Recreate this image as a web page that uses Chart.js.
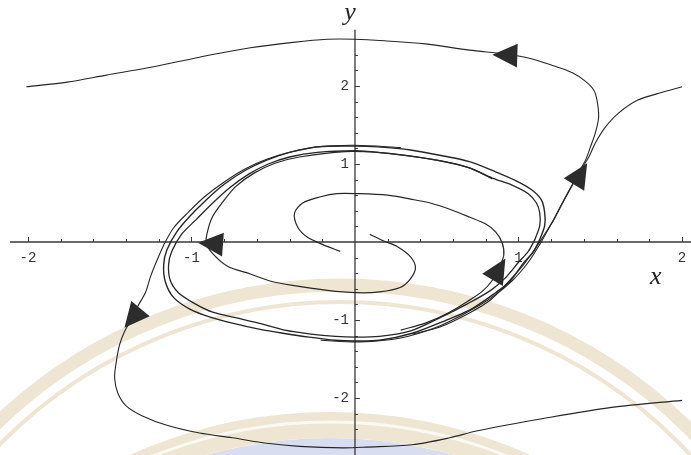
<!DOCTYPE html>
<html>
<head>
<meta charset="utf-8">
<script src="https://cdn.jsdelivr.net/npm/chart.js@4"></script>
<style>
  html, body { margin: 0; padding: 0; background: #fff; }
  #wrap { width: 691px; height: 455px; }
</style>
</head>
<body>
<div id="wrap"><canvas id="phase" width="691" height="455"></canvas></div>
<script>
// Phase-plane trajectories (x, y) around the limit cycle.
const cycleOuter = [
  [1.13,0.03],[1.16,0.21],[1.16,0.38],[1.14,0.54],[1.08,0.67],[0.98,0.79],[0.86,0.90],[0.70,1.03],
  [0.55,1.10],[0.34,1.18],[0.14,1.22],[0,1.23],[-0.23,1.22],[-0.40,1.15],[-0.54,1.05],[-0.67,0.92],
  [-0.80,0.74],[-0.91,0.54],[-1.01,0.33],[-1.09,0.13],[-1.15,-0.10],[-1.17,-0.29],[-1.16,-0.51],
  [-1.11,-0.71],[-1.01,-0.86],[-0.89,-0.96],[-0.75,-1.04],[-0.58,-1.12],[-0.44,-1.17],[-0.28,-1.22],
  [-0.12,-1.26],[0,-1.27],[0.15,-1.26],[0.35,-1.17],[0.55,-1.01],[0.72,-0.85],[0.86,-0.65],
  [0.95,-0.50],[1.03,-0.27],[1.09,-0.13],[1.13,0.03]
];
const cycleInner = [
  [1.10,0.03],[1.13,0.21],[1.13,0.37],[1.11,0.50],[1.06,0.62],[0.96,0.73],[0.84,0.82],[0.70,0.95],
  [0.55,1.03],[0.34,1.10],[0.14,1.15],[0,1.17],[-0.23,1.15],[-0.40,1.09],[-0.53,1.00],[-0.65,0.87],
  [-0.77,0.69],[-0.87,0.50],[-0.97,0.29],[-1.06,0.10],[-1.12,-0.12],[-1.14,-0.29],[-1.13,-0.49],
  [-1.08,-0.65],[-0.98,-0.79],[-0.87,-0.90],[-0.73,-0.97],[-0.57,-1.05],[-0.43,-1.13],[-0.27,-1.18],
  [-0.12,-1.21],[0,-1.22],[0.15,-1.21],[0.34,-1.14],[0.53,-0.96],[0.69,-0.79],[0.83,-0.62],
  [0.92,-0.46],[1.00,-0.26],[1.06,-0.12],[1.10,0.03]
];
const escapeUpper = [
  [0.35,-1.18],[0.52,-1.09],[0.70,-0.91],[0.83,-0.74],[0.92,-0.55],[1.02,-0.32],[1.10,-0.09],
  [1.16,0.10],[1.22,0.30],[1.27,0.50],[1.33,0.73],[1.37,0.90],[1.41,1.05],[1.44,1.22],[1.47,1.40],
  [1.49,1.60],[1.48,1.82],[1.46,1.95],[1.41,2.06],[1.33,2.17],[1.20,2.27],[1.06,2.36],[0.92,2.41],
  [0.70,2.46],[0.43,2.54],[0.18,2.58],[0,2.60],[-0.17,2.60],[-0.38,2.56],[-0.64,2.49],[-0.95,2.37],
  [-1.25,2.24],[-1.52,2.14],[-1.76,2.05],[-2.01,1.99]
];
const approachRight = [
  [2.00,1.99],[1.88,1.92],[1.73,1.82],[1.61,1.65],[1.53,1.47],[1.47,1.27],[1.43,1.09],[1.38,0.92],
  [1.33,0.74],[1.27,0.51],[1.20,0.23],[1.13,-0.03],[1.06,-0.26],[0.96,-0.50],[0.83,-0.72],
  [0.67,-0.92],[0.49,-1.10],[0.28,-1.23],[0.03,-1.28],[-0.21,-1.26]
];
const escapeLower = [
  [0.28,1.21],[0,1.24],[-0.23,1.22],[-0.40,1.15],[-0.54,1.06],[-0.67,0.94],[-0.80,0.77],[-0.92,0.58],
  [-1.02,0.38],[-1.11,0.18],[-1.17,-0.04],[-1.21,-0.23],[-1.25,-0.44],[-1.28,-0.64],[-1.33,-0.83],
  [-1.37,-1.00],[-1.41,-1.15],[-1.44,-1.32],[-1.46,-1.54],[-1.47,-1.74],[-1.45,-1.94],[-1.40,-2.10],
  [-1.30,-2.23],[-1.15,-2.35],[-0.95,-2.45],[-0.75,-2.51],[-0.54,-2.58],[-0.34,-2.62],[-0.07,-2.64],
  [0.07,-2.63],[0.35,-2.60],[0.58,-2.51],[0.75,-2.42],[1.16,-2.26],[1.57,-2.12],[2.00,-2.03]
];
const spiralA = [
  [0.28,-1.13],[0.43,-1.04],[0.57,-0.91],[0.69,-0.76],[0.78,-0.63],[0.84,-0.49],[0.88,-0.33],
  [0.91,-0.17],[0.90,-0.01],[0.86,0.13],[0.80,0.23],[0.70,0.32],[0.58,0.42],[0.46,0.50],[0.34,0.55],
  [0.20,0.60],[0.01,0.62],[-0.11,0.62],[-0.21,0.58],[-0.32,0.50],[-0.37,0.37],[-0.35,0.19],
  [-0.29,0.06],[-0.20,-0.03],[-0.09,-0.12]
];
const spiralB = [
  [0.84,0.81],[0.70,0.95],[0.52,1.04],[0.31,1.11],[0.14,1.15],[-0.06,1.16],[-0.34,1.09],[-0.49,1.01],
  [-0.62,0.88],[-0.73,0.71],[-0.81,0.51],[-0.87,0.33],[-0.90,0.15],[-0.91,-0.01],[-0.87,-0.15],
  [-0.78,-0.31],[-0.64,-0.41],[-0.52,-0.50],[-0.37,-0.56],[-0.17,-0.62],[0.01,-0.65],[0.15,-0.64],
  [0.28,-0.58],[0.34,-0.47],[0.37,-0.33],[0.34,-0.19],[0.26,-0.06],[0.18,0.01],[0.09,0.10]
];
// Direction arrowheads: [tipX, tipY, tailX, tailY]
const arrows = [
  [0.84,2.40, 0.99,2.39],
  [1.42,1.01, 1.34,0.74],
  [0.92,-0.21, 0.84,-0.49],
  [-0.96,-0.01, -0.83,-0.03],
  [-1.41,-1.10, -1.31,-0.85]
];
// Axis ticks and labels
const xTickValues = [-2, -1, 1, 2];
const xTickLabels = ['-2', '-1', '1', '2'];
const yTickValues = [-2, -1, 1, 2];
const yTickLabels = ['-2', '-1', '1', '2'];
const xAxisName = 'x';
const yAxisName = 'y';

const toPoints = arr => arr.map(([x, y]) => ({ x, y }));
const ink = '#262626';

function curve(data, width) {
  return {
    data: toPoints(data),
    showLine: true,
    borderColor: ink,
    borderWidth: width,
    pointRadius: 0,
    tension: 0.3,
    fill: false
  };
}

const backdrop = {
  id: 'backdrop',
  beforeDraw(chart) {
    const ctx = chart.ctx;
    ctx.save();
    ctx.fillStyle = '#ffffff';
    ctx.fillRect(0, 0, chart.width, chart.height);
    ctx.strokeStyle = '#eee6d3';
    ctx.lineWidth = 13;
    ctx.beginPath(); ctx.arc(340, 780, 495, Math.PI, 2 * Math.PI); ctx.stroke();
    ctx.lineWidth = 4;
    ctx.beginPath(); ctx.arc(340, 780, 478, Math.PI, 2 * Math.PI); ctx.stroke();
    ctx.fillStyle = '#d8ddef';
    ctx.beginPath(); ctx.arc(330, 900, 462, 0, 2 * Math.PI); ctx.fill();
    ctx.lineWidth = 26;
    ctx.beginPath(); ctx.arc(330, 900, 475, Math.PI, 2 * Math.PI); ctx.stroke();
    ctx.strokeStyle = '#fbf9f4';
    ctx.lineWidth = 3;
    ctx.beginPath(); ctx.arc(330, 900, 478, Math.PI, 2 * Math.PI); ctx.stroke();
    ctx.restore();
  }
};

const axes = {
  id: 'axes',
  beforeDatasetsDraw(chart) {
    const { ctx, scales: { x, y } } = chart;
    const x0 = x.getPixelForValue(0);
    const y0 = y.getPixelForValue(0);
    ctx.save();
    ctx.strokeStyle = '#3a3a3a';
    ctx.lineWidth = 1.3;
    ctx.beginPath();
    ctx.moveTo(x.getPixelForValue(-2.11), y0);
    ctx.lineTo(x.right, y0);
    ctx.moveTo(x0, y.getPixelForValue(2.72));
    ctx.lineTo(x0, y.bottom);
    ctx.stroke();
    ctx.lineWidth = 1;
    ctx.beginPath();
    for (let k = -10; k <= 10; k++) {
      if (k === 0) continue;
      const px = Math.round(x.getPixelForValue(k / 5)) + 0.5;
      const len = k % 5 === 0 ? 5 : 3;
      ctx.moveTo(px, y0); ctx.lineTo(px, y0 - len);
    }
    for (let k = -12; k <= 12; k++) {
      if (k === 0) continue;
      const py = Math.round(y.getPixelForValue(k / 5)) + 0.5;
      const len = k % 5 === 0 ? 5 : 3;
      ctx.moveTo(x0, py); ctx.lineTo(x0 + len, py);
    }
    ctx.stroke();
    ctx.fillStyle = '#333';
    ctx.font = '14px "Liberation Mono", "DejaVu Sans Mono", monospace';
    ctx.textAlign = 'center';
    ctx.textBaseline = 'middle';
    xTickValues.forEach((v, i) => {
      ctx.fillText(xTickLabels[i], Math.min(x.getPixelForValue(v), x.right - 8), y0 + 16);
    });
    ctx.textAlign = 'right';
    yTickValues.forEach((v, i) => {
      ctx.fillText(yTickLabels[i], x0 - 6, y.getPixelForValue(v));
    });
    ctx.fillStyle = '#222';
    ctx.font = 'italic 26px "Liberation Serif", "DejaVu Serif", serif';
    ctx.textAlign = 'center';
    ctx.textBaseline = 'alphabetic';
    ctx.fillText(yAxisName, x0 - 5, 20);
    ctx.fillText(xAxisName, x.getPixelForValue(1.84), y0 + 42);
    ctx.restore();
  }
};

const arrowHeads = {
  id: 'arrowHeads',
  afterDatasetsDraw(chart) {
    const { ctx, scales: { x, y } } = chart;
    ctx.save();
    ctx.fillStyle = '#2c2c2c';
    arrows.forEach(([tx, ty, bx, by]) => {
      const px = x.getPixelForValue(tx), py = y.getPixelForValue(ty);
      const qx = x.getPixelForValue(bx), qy = y.getPixelForValue(by);
      const d = Math.hypot(px - qx, py - qy);
      const ux = (px - qx) / d, uy = (py - qy) / d;
      const len = 25, half = 12;
      const cx = px - ux * len, cy = py - uy * len;
      ctx.beginPath();
      ctx.moveTo(px, py);
      ctx.lineTo(cx - uy * half, cy + ux * half);
      ctx.lineTo(cx + uy * half, cy - ux * half);
      ctx.closePath();
      ctx.fill();
    });
    ctx.restore();
  }
};

new Chart(document.getElementById('phase'), {
  type: 'scatter',
  data: {
    datasets: [
      curve(cycleOuter, 1.4),
      curve(cycleInner, 1.3),
      curve(spiralA, 1.2),
      curve(spiralB, 1.2),
      curve(escapeUpper, 1.1),
      curve(approachRight, 1.1),
      curve(escapeLower, 1.1)
    ]
  },
  options: {
    responsive: false,
    animation: false,
    devicePixelRatio: 1,
    layout: { padding: 0 },
    plugins: { legend: { display: false }, tooltip: { enabled: false } },
    scales: {
      x: { type: 'linear', min: -2.171, max: 2.055, display: false },
      y: { type: 'linear', min: -2.731, max: 3.103, display: false }
    }
  },
  plugins: [backdrop, axes, arrowHeads]
});
</script>
</body>
</html>
